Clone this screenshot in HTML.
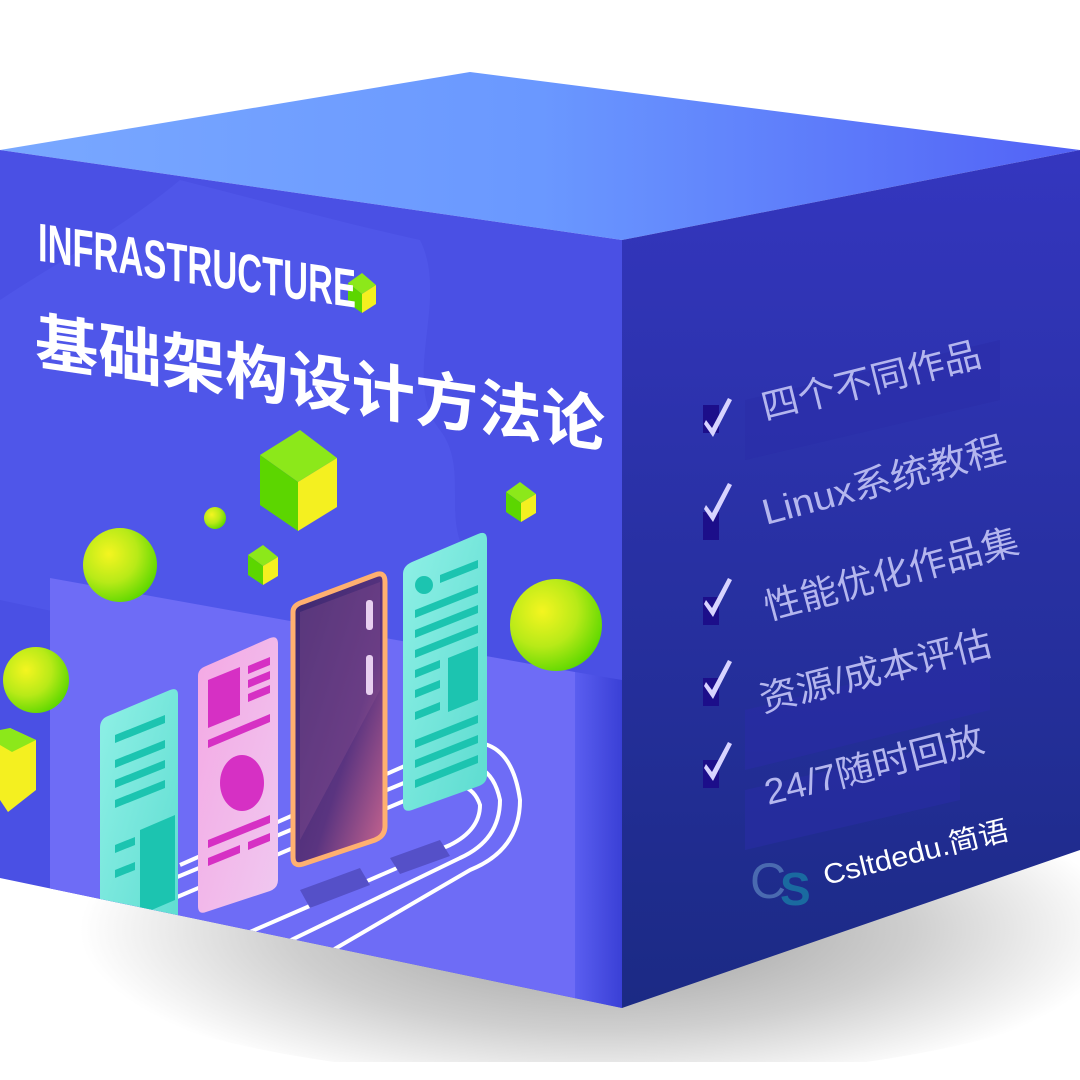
<!DOCTYPE html>
<html><head><meta charset="utf-8"><style>
html,body{margin:0;padding:0;background:#fff;}
svg{display:block}
text{font-family:"Liberation Sans","Noto Sans CJK SC",sans-serif;}
</style></head><body>
<svg width="1080" height="1080" viewBox="0 0 1080 1080" xmlns="http://www.w3.org/2000/svg">
<defs>
<radialGradient id="sh" cx="600" cy="930" r="520" gradientUnits="userSpaceOnUse" gradientTransform="translate(600 930) scale(1 0.32) translate(-600 -930)">
<stop offset="0" stop-color="#9a9a9a"/><stop offset="0.6" stop-color="#cfcfcf"/><stop offset="1" stop-color="#ffffff"/></radialGradient>
<linearGradient id="top" x1="0" y1="0" x2="1" y2="0"><stop offset="0" stop-color="#79a8ff"/><stop offset="0.5" stop-color="#6a98ff"/><stop offset="1" stop-color="#5262f6"/></linearGradient>
<linearGradient id="rf" x1="0" y1="0" x2="0" y2="1"><stop offset="0" stop-color="#3436bf"/><stop offset="1" stop-color="#1b2a84"/></linearGradient>
<linearGradient id="edge" x1="0" y1="0" x2="1" y2="0"><stop offset="0" stop-color="#5a5ef0"/><stop offset="1" stop-color="#3a40d6"/></linearGradient>
<radialGradient id="ball" cx="0.35" cy="0.35" r="0.7"><stop offset="0" stop-color="#f4f520"/><stop offset="0.55" stop-color="#b8ea18"/><stop offset="1" stop-color="#5fd800"/></radialGradient>
<linearGradient id="teal" x1="0" y1="0" x2="1" y2="1"><stop offset="0" stop-color="#8ff0e6"/><stop offset="1" stop-color="#5cdcd0"/></linearGradient>
<linearGradient id="pink" x1="0" y1="0" x2="1" y2="1"><stop offset="0" stop-color="#f4a8e4"/><stop offset="1" stop-color="#f0c8f0"/></linearGradient>
<linearGradient id="phone" x1="0" y1="0" x2="1" y2="1"><stop offset="0" stop-color="#3a2870"/><stop offset="0.6" stop-color="#5a3480"/><stop offset="1" stop-color="#d06890"/></linearGradient>
<clipPath id="lf"><polygon points="0,150 622,240 622,1008 0,878"/></clipPath>
</defs>
<rect width="1080" height="1080" fill="#fff"/>
<ellipse cx="600" cy="930" rx="560" ry="150" fill="url(#sh)"/>
<rect x="0" y="1062" width="1080" height="18" fill="#fff"/>
<!-- top -->
<polygon points="0,150 470,72 1080,150 622,240" fill="url(#top)"/>
<!-- right face -->
<polygon points="622,240 1080,150 1080,850 622,1008" fill="url(#rf)"/>
<!-- left face -->
<polygon points="0,150 622,240 622,1008 0,878" fill="#4a50e4"/>
<g clip-path="url(#lf)">
<path d="M180,180 C260,200 330,220 420,240 C450,300 400,380 440,430 C470,470 440,520 470,560 L470,700 L0,600 L0,300 C60,260 120,230 180,180 Z" fill="#5058ea" opacity="0.8"/>
<polygon points="50,578 575,672 575,1000 50,890" fill="#6e6cf6"/>
<polygon points="575,672 622,680 622,1010 575,1000" fill="url(#edge)"/>
<!-- rails -->
<g fill="none" stroke="#fff" stroke-width="4">
<path d="M170,900 L430,790 Q470,775 480,805 Q480,830 450,845 L220,945"/>
<path d="M170,880 L440,768 Q490,752 500,800 Q500,840 460,858 L250,960"/>
<path d="M180,865 L450,746 Q510,728 520,800 Q520,850 470,870 L290,975"/>
</g>
<g fill="#5550c8"><polygon points="300,890 360,868 370,885 310,908"/><polygon points="390,858 440,840 450,856 400,874"/></g>
<!-- card 1 -->
<path d="M108,716 L170,690 Q178,687 178,695 L178,960 L100,960 L100,728 Q100,719 108,716 Z" fill="url(#teal)"/>
<g fill="#1cc4b0"><polygon points="115,735 165,715 165,723 115,743"/><polygon points="115,760 165,740 165,748 115,768"/><polygon points="115,780 165,760 165,768 115,788"/><polygon points="115,800 165,780 165,788 115,808"/><polygon points="140,830 175,815 175,900 140,915"/><polygon points="115,845 135,837 135,845 115,853"/><polygon points="115,870 135,862 135,870 115,878"/></g>
<!-- pink card -->
<path d="M206,666 L270,638 Q278,635 278,644 L278,880 Q278,888 270,891 L206,912 Q198,915 198,906 L198,676 Q198,669 206,666 Z" fill="url(#pink)"/>
<g fill="#d630c4"><polygon points="208,680 240,667 240,715 208,728"/><polygon points="248,666 270,657 270,665 248,674"/><polygon points="248,680 270,671 270,679 248,688"/><polygon points="248,694 270,685 270,693 248,702"/><polygon points="208,740 270,714 270,722 208,748"/><ellipse cx="242" cy="783" rx="22" ry="28"/><polygon points="208,840 270,815 270,823 208,848"/><polygon points="208,858 240,845 240,853 208,866"/><polygon points="248,842 270,833 270,841 248,850"/></g>
<!-- phone -->
<path d="M303,602 L375,575 Q385,571 385,582 L385,826 Q385,836 375,840 L303,864 Q293,867 293,857 L293,612 Q293,605 303,602 Z" fill="url(#phone)" stroke="#ffb070" stroke-width="5"/>
<polygon points="300,612 380,582 380,690 300,840" fill="#8a5090" opacity="0.35"/>
<rect x="366" y="600" width="7" height="30" rx="3" fill="#e8d0f0"/>
<rect x="366" y="655" width="7" height="40" rx="3" fill="#e8d0f0"/>
<!-- teal card 2 -->
<path d="M412,562 L478,534 Q487,530 487,540 L487,775 Q487,783 479,786 L412,810 Q403,813 403,804 L403,574 Q403,566 412,562 Z" fill="url(#teal)"/>
<g fill="#1cc4b0"><circle cx="424" cy="585" r="9"/><polygon points="440,575 478,560 478,568 440,583"/><polygon points="415,610 478,585 478,593 415,618"/><polygon points="415,630 478,605 478,613 415,638"/><polygon points="415,650 478,625 478,633 415,658"/><polygon points="415,670 440,660 440,668 415,678"/><polygon points="448,658 478,646 478,700 448,712"/><polygon points="415,690 440,680 440,688 415,698"/><polygon points="415,712 440,702 440,710 415,720"/><polygon points="415,740 478,715 478,723 415,748"/><polygon points="415,760 478,735 478,743 415,768"/><polygon points="415,780 478,755 478,763 415,788"/></g>
<!-- balls -->
<circle cx="120" cy="565" r="37" fill="url(#ball)"/>
<circle cx="36" cy="680" r="33" fill="url(#ball)"/>
<circle cx="556" cy="625" r="46" fill="url(#ball)"/>
<circle cx="215" cy="518" r="11" fill="url(#ball)"/>
<!-- cubes -->
<g><polygon points="260,455 300,430 337,458 298,482" fill="#8ce81a"/><polygon points="260,455 298,482 298,531 260,505" fill="#5cd600"/><polygon points="298,482 337,458 337,507 298,531" fill="#f4f020"/></g>
<g><polygon points="506,492 520,482 536,494 521,503" fill="#8ce81a"/><polygon points="506,492 521,503 521,522 506,512" fill="#5cd600"/><polygon points="521,503 536,494 536,513 521,522" fill="#f4f020"/></g>
<g><polygon points="248,555 263,545 278,557 263,566" fill="#8ce81a"/><polygon points="248,555 263,566 263,585 248,575" fill="#5cd600"/><polygon points="263,566 278,557 278,576 263,585" fill="#f4f020"/></g>
<g><polygon points="348,283 362,273 376,285 362,294" fill="#8ce81a"/><polygon points="348,283 362,294 362,313 348,303" fill="#5cd600"/><polygon points="362,294 376,285 376,304 362,313" fill="#f4f020"/></g>
<g><polygon points="0,740 0,800 8,812 36,790 36,740 10,728" fill="#f4f020"/><polygon points="0,730 10,728 36,740 12,752 0,745" fill="#8ce81a"/></g>
<!-- titles -->
<g transform="matrix(1,0.148,0,1,0,0)">
<text x="38" y="255" font-size="54" font-weight="bold" fill="#fff" textLength="318" lengthAdjust="spacingAndGlyphs">INFRASTRUCTURE</text>
<text x="35" y="358" font-size="62" font-weight="bold" fill="#fff" textLength="570" lengthAdjust="spacingAndGlyphs">基础架构设计方法论</text>
</g>
</g>
<!-- right face content -->
<g fill="#2a2ca8" opacity="0.5">
<polygon points="745,400 1000,340 1000,400 745,460"/>
<polygon points="745,710 990,650 990,710 745,770"/>
<polygon points="745,790 960,740 960,800 745,850"/>
</g>
<g fill="#1c0e8a">
<rect x="703" y="405" width="16" height="28"/><rect x="703" y="512" width="16" height="28"/><rect x="703" y="597" width="16" height="28"/><rect x="703" y="678" width="16" height="28"/><rect x="703" y="760" width="16" height="28"/>
</g>
<g fill="#d8d4ff">
<path d="M706,420 L712,428 L728,398 L732,400 L713,437 L704,424 Z"/>
<path d="M706,505 L712,513 L728,483 L732,485 L713,522 L704,509 Z"/>
<path d="M706,600 L712,608 L728,578 L732,580 L713,617 L704,604 Z"/>
<path d="M706,682 L712,690 L728,660 L732,662 L713,699 L704,686 Z"/>
<path d="M706,764 L712,772 L728,742 L732,744 L713,781 L704,768 Z"/>
</g>
<g fill="#b4b6ee" font-size="36">
<text transform="translate(765,420) rotate(-14)" textLength="225" lengthAdjust="spacingAndGlyphs">四个不同作品</text>
<text transform="translate(766,525) rotate(-15)" textLength="250" lengthAdjust="spacingAndGlyphs">Linux系统教程</text>
<text transform="translate(768,620) rotate(-15)" textLength="262" lengthAdjust="spacingAndGlyphs">性能优化作品集</text>
<text transform="translate(763,712) rotate(-14)" textLength="238" lengthAdjust="spacingAndGlyphs">资源/成本评估</text>
<text transform="translate(768,805) rotate(-14)" textLength="225" lengthAdjust="spacingAndGlyphs">24/7随时回放</text>
</g>
<text transform="translate(826,885) rotate(-14)" font-size="28" fill="#fff" textLength="190" lengthAdjust="spacingAndGlyphs">Csltdedu.简语</text>
<text x="750" y="898" font-size="50" font-family="Liberation Serif,serif" fill="#4a6ab0">C</text>
<text x="780" y="905" font-size="46" font-family="Liberation Serif,serif" font-weight="bold" fill="#1a6aa0">S</text>
</svg>
</body></html>
